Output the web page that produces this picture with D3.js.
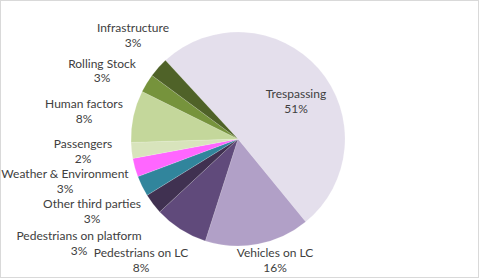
<!DOCTYPE html>
<html>
<head>
<meta charset="utf-8">
<script src="https://cdn.jsdelivr.net/npm/d3@7"></script>
<style>
  body { margin: 0; background: #fff; }
  .lbl { font-family: Lato, "Liberation Sans", sans-serif; font-size: 12px; fill: #404040; }
</style>
</head>
<body>
<div id="chart"></div>
<script>
// categories, clockwise from Trespassing
const categories = ["Trespassing", "Vehicles on LC", "Pedestrians on LC", "Pedestrians on platform",
  "Other third parties", "Weather & Environment", "Passengers", "Human factors", "Rolling Stock", "Infrastructure"];
const shares = [50.8, 15.8, 8.1, 3.1, 3.1, 2.8, 2.4, 7.8, 2.8, 3.0];
const colors = ["#e4dfec", "#b1a0c7", "#604a7b", "#403151", "#31859c", "#ff66ff",
  "#d8e4bc", "#c4d79b", "#76933c", "#4f6228"];

// label layout (centre x, first baseline y), Excel style best fit
const labelPos = [[296, 98], [275, 257], [141, 257], [79, 240], [92, 208],
  [65, 178], [83, 148], [84, 108], [102, 67.5], [133, 32]];

const width = 479, height = 278;
const cx = 238, cy = 139, radius = 107;

const svg = d3.select("#chart")
  .append("svg")
    .attr("width", width)
    .attr("height", height);

// chart area border
svg.append("rect")
    .attr("x", 0.5).attr("y", 0.5)
    .attr("width", width - 1).attr("height", height - 1)
    .attr("fill", "#fff")
    .attr("stroke", "#d9d9d9");

const start = -42.7 * Math.PI / 180;
const pie = d3.pie()
    .sort(null)
    .value(function(d) { return d; })
    .startAngle(start)
    .endAngle(start + 2 * Math.PI);

const arc = d3.arc().innerRadius(0).outerRadius(radius);

const g = svg.append("g")
    .attr("transform", `translate(${cx}, ${cy})`);

g.selectAll("path")
  .data(pie(shares))
  .join("path")
    .attr("d", arc)
    .attr("fill", function(d, i) { return colors[i]; })
    .attr("stroke", "#fff")
    .attr("stroke-width", 0.3)
    .attr("stroke-opacity", 0.5);

// data labels
const labels = svg.append("g")
  .selectAll("text")
  .data(categories)
  .join("text")
    .attr("class", "lbl")
    .attr("text-anchor", "middle")
    .attr("x", function(d, i) { return labelPos[i][0]; })
    .attr("y", function(d, i) { return labelPos[i][1]; });

labels.append("tspan")
    .attr("x", function(d, i) { return labelPos[i][0]; })
    .text(function(d) { return d; });
labels.append("tspan")
    .attr("x", function(d, i) { return labelPos[i][0]; })
    .attr("dy", 14.5)
    .text(function(d, i) { return Math.round(shares[i]) + "%"; });
</script>
</body>
</html>
